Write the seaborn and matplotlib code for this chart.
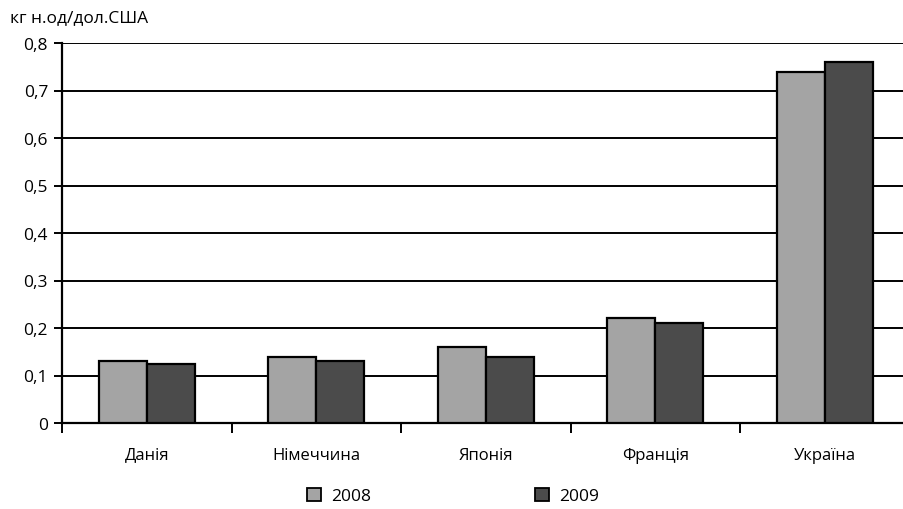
import matplotlib
matplotlib.use("Agg")
import matplotlib.pyplot as plt
from matplotlib.patches import Patch
from matplotlib.ticker import FuncFormatter, FixedLocator
import seaborn as sns
import pandas as pd

countries = ["Данія", "Німеччина", "Японія", "Франція", "Україна"]
years = ["2008", "2009"]
values_2008 = [0.13, 0.14, 0.16, 0.221, 0.74]
values_2009 = [0.125, 0.13, 0.14, 0.211, 0.76]
y_ticks = [0, 0.1, 0.2, 0.3, 0.4, 0.5, 0.6, 0.7, 0.8]
colors = ["#A4A4A4", "#4B4B4B"]

df = pd.DataFrame({
    "country": countries * 2,
    "year": [years[0]] * len(countries) + [years[1]] * len(countries),
    "value": values_2008 + values_2009,
})

sns.set_style("white")
plt.rcParams["font.family"] = ["Open Sans", "DejaVu Sans"]
plt.rcParams["text.color"] = "black"
plt.rcParams["xtick.color"] = "black"
plt.rcParams["ytick.color"] = "black"

fig = plt.figure(figsize=(9.04, 5.10), dpi=100)
ax = fig.add_axes([62 / 904, 86 / 510, 5 * 169.5 / 904, 380 / 510])

sns.barplot(data=df, x="country", y="value", hue="year", order=countries,
            hue_order=years, palette=colors, width=0.566, gap=0,
            edgecolor="black", linewidth=1.6, legend=False, ax=ax, zorder=3)

ax.set_xlim(-0.5, len(countries) - 0.5)
ax.set_ylim(0, 0.8)
ax.set_yticks(y_ticks)
ax.yaxis.set_major_formatter(FuncFormatter(
    lambda v, _: "0" if abs(v) < 1e-9 else f"{v:.1f}".replace(".", ",")))
ax.set_axisbelow(True)
ax.yaxis.grid(True, color="black", linewidth=1.4)
ax.xaxis.grid(False)

for side in ["top", "right"]:
    ax.spines[side].set_visible(False)
for side in ["left", "bottom"]:
    ax.spines[side].set_color("black")
    ax.spines[side].set_linewidth(1.6)

ax.tick_params(axis="y", which="major", direction="out", length=6, width=1.4,
               color="black", labelcolor="black", labelsize=12.5, pad=4, left=True)
ax.tick_params(axis="x", which="major", length=0, labelsize=12,
               labelcolor="black", pad=17)
ax.xaxis.set_minor_locator(FixedLocator([i - 0.5 for i in range(len(countries) + 1)]))
ax.tick_params(axis="x", which="minor", direction="out", length=7, width=1.4,
               color="black", bottom=True)
ax.set_xlabel("")
ax.set_ylabel("")

fig.text(10 / 904, 1 - 18 / 510, "кг н.од/дол.США", fontsize=12.5,
         color="black", ha="left", va="center")

handles = [Patch(facecolor=c, edgecolor="black", linewidth=1.3, label=y)
           for c, y in zip(colors, years)]
fig.legend(handles=handles, loc="center", bbox_to_anchor=(453 / 904, 1 - 497 / 510),
           ncol=2, frameon=False, fontsize=12.5, handlelength=0.8, handleheight=0.8,
           handletextpad=0.6, columnspacing=9.4)

fig.savefig("out.png", dpi=100)
